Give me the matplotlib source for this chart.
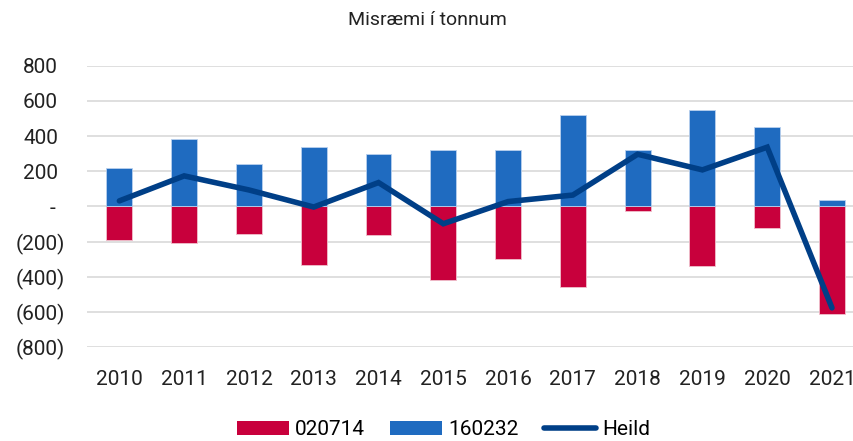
import numpy as np
import matplotlib
matplotlib.use("Agg")
from matplotlib import pyplot as plt
from matplotlib import transforms
from matplotlib.patches import Patch
from matplotlib.lines import Line2D

years = ["2010", "2011", "2012", "2013", "2014", "2015",
         "2016", "2017", "2018", "2019", "2020", "2021"]
s020714 = [-189, -208, -157, -335, -164, -417, -298, -455, -24, -336, -122, -610]
s160232 = [218, 382, 240, 337, 297, 321, 321, 522, 320, 547, 450, 38]
heild = [32, 174, 94, -3, 136, -98, 28, 65, 297, 208, 337, -576]
yticks = [-800, -600, -400, -200, 0, 200, 400, 600, 800]

RED = "#C8003C"
BLUE = "#1F6BC0"
NAVY = "#003F87"
TXT = "#222222"

plt.rcParams['font.family'] = ['Roboto', 'DejaVu Sans']

W, H = 854, 441
fig = plt.figure(figsize=(W / 100, H / 100), dpi=100)
ax = fig.add_axes([87 / W, 0.2125, (W - 87) / W, 0.851 - 0.2125])

x = np.arange(len(years))
ax.bar(x, s020714, width=0.4, color=RED, edgecolor="#f0c0cc", linewidth=0.6, zorder=2)
ax.bar(x, s160232, width=0.4, color=BLUE, edgecolor="#b8d0ee", linewidth=0.6, zorder=2)
ax.plot(x, heild, color=NAVY, linewidth=4, solid_capstyle="round",
        solid_joinstyle="miter", zorder=3)

ax.set_ylim(-800, 800)
ax.set_xlim(-0.5, 11.34)
ax.set_yticks(yticks)
ax.set_yticklabels([])
ax.set_xticks(x)
ax.set_xticklabels(years)
ax.grid(axis="y", color="#D9D9D9", linewidth=1.2, zorder=0)
for s in ax.spines.values():
    s.set_visible(False)
ax.tick_params(axis="both", length=0, labelsize=15, colors=TXT)
ax.tick_params(axis="x", pad=16)

# accounting style labels: digits aligned, ")" hangs to the right
tr = transforms.blended_transform_factory(fig.transFigure, ax.transData)
for v in yticks:
    if v > 0:
        lab, xpos = f"{v}", 58
    elif v < 0:
        lab, xpos = f"({-v})", 65
    else:
        lab, xpos = "-", 55
    ax.text(xpos / W, v, lab, transform=tr, ha="right", va="center_baseline",
            fontsize=15, color=TXT)

fig.text(0.5, 0.955, "Misræmi í tonnum", ha="center", va="center",
         fontsize=14, color=TXT)

handles = [Patch(facecolor=RED, edgecolor="none"),
           Patch(facecolor=BLUE, edgecolor="none"),
           Line2D([0], [0], color=NAVY, linewidth=4, solid_capstyle="round")]
fig.legend(handles, ["020714", "160232", "Heild"], loc="center",
           bbox_to_anchor=(0.519, 0.025), ncol=3, frameon=False,
           fontsize=15, handlelength=2.5, handleheight=0.7,
           handletextpad=0.3, columnspacing=1.2)

fig.savefig("out.png", dpi=100)
